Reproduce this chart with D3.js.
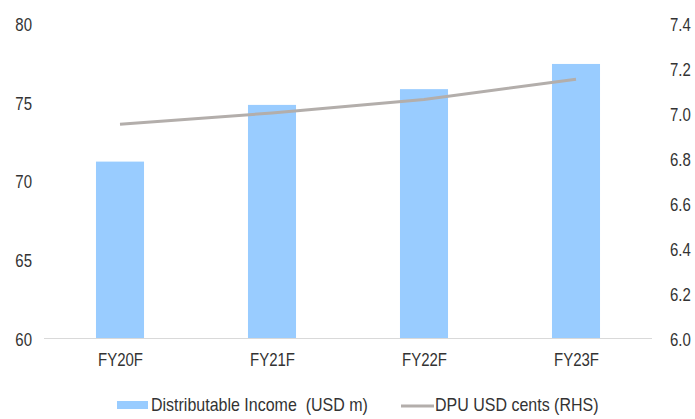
<!DOCTYPE html>
<html>
<head>
<meta charset="utf-8">
<script src="https://cdn.jsdelivr.net/npm/d3@7"></script>
<style>
  html, body { margin: 0; padding: 0; background: #fff; }
  svg { display: block; font-family: "Liberation Sans", Arial, sans-serif; }
  .legend text { white-space: pre; }
</style>
</head>
<body>
<svg id="chart" width="695" height="419"></svg>
<script>
// Forecast years
const categories = ["FY20F", "FY21F", "FY22F", "FY23F"];
// Distributable income, USD m (left axis)
const incomeValues = [71.2, 74.8, 75.8, 77.4];
// DPU, USD cents (right axis)
const dpuValues = [6.95, 7.00, 7.06, 7.15];
// Axis ticks
const leftTicks = [60, 65, 70, 75, 80];
const rightTicks = [6.0, 6.2, 6.4, 6.6, 6.8, 7.0, 7.2, 7.4];
const legendLabels = ["Distributable Income  (USD m)", "DPU USD cents (RHS)"];

const svg = d3.select("#chart");
const plot = { left: 44, right: 652, top: 23, bottom: 338 };
const textColor = "#333";
const fontSize = 15;
const stretch = "scale(1,1.2)"; // slightly tall, condensed lettering

const x = d3.scaleBand().domain(categories).range([plot.left, plot.right]).paddingInner(0.684).paddingOuter(0.342);
const xc = d3.scalePoint().domain(categories).range([plot.left, plot.right]).padding(0.5);
const yL = d3.scaleLinear().domain([60, 80]).range([plot.bottom, plot.top]);
const yR = d3.scaleLinear().domain([6.0, 7.4]).range([plot.bottom, plot.top]);

// Bars
svg.append("g").selectAll("rect").data(categories).join("rect")
  .attr("x", d => x(d))
  .attr("width", x.bandwidth())
  .attr("y", (d, i) => yL(incomeValues[i]))
  .attr("height", (d, i) => yL(60) - yL(incomeValues[i]))
  .attr("fill", "#99ccff");

// Baseline
svg.append("line")
  .attr("x1", plot.left).attr("x2", plot.right)
  .attr("y1", plot.bottom + 0.5).attr("y2", plot.bottom + 0.5)
  .attr("stroke", "#d9d9d9").attr("stroke-width", 1);

// DPU line
const line = d3.line().x((d, i) => xc(categories[i])).y(d => yR(d));
svg.append("path")
  .datum(dpuValues)
  .attr("d", line)
  .attr("fill", "none")
  .attr("stroke", "#b3aeab")
  .attr("stroke-width", 3);

function styleText(sel) {
  sel.attr("font-size", fontSize)
    .attr("fill", textColor)
    .attr("font-family", "Liberation Sans, Arial, sans-serif")
    .attr("y", 0)
    .attr("dy", "0.35em")
    .attr("transform", stretch);
}

// Left axis
const leftAxis = d3.axisLeft(yL).tickValues(leftTicks).tickSize(0).tickPadding(0).tickFormat(d3.format("d"));
const gl = svg.append("g").attr("transform", "translate(32,1)").call(leftAxis);
gl.select(".domain").remove();
gl.selectAll("text").call(styleText);

// Right axis
const rightAxis = d3.axisRight(yR).tickValues(rightTicks).tickSize(0).tickPadding(0).tickFormat(d3.format(".1f"));
const gr = svg.append("g").attr("transform", "translate(670,1)").call(rightAxis);
gr.select(".domain").remove();
gr.selectAll("text").call(styleText);

// Category axis
const bottomAxis = d3.axisBottom(xc).tickSize(0).tickPadding(0);
const gb = svg.append("g").attr("transform", "translate(0,360)").call(bottomAxis);
gb.select(".domain").remove();
gb.selectAll("text").call(styleText);

// Legend
const legend = svg.append("g").attr("class", "legend").attr("transform", "translate(0,405)");
legend.append("rect").attr("x", 117).attr("y", -4).attr("width", 31).attr("height", 8).attr("fill", "#99ccff");
legend.append("g").attr("transform", "translate(151,0)")
  .append("text").attr("font-size", 16).attr("fill", textColor).attr("dy", "0.35em").attr("transform", "scale(1,1.15)")
  .text(legendLabels[0]);
legend.append("line").attr("x1", 401).attr("x2", 434).attr("y1", 1).attr("y2", 1).attr("stroke", "#b3aeab").attr("stroke-width", 3);
legend.append("g").attr("transform", "translate(435,0)")
  .append("text").attr("font-size", 16).attr("fill", textColor).attr("dy", "0.35em").attr("transform", "scale(1,1.15)")
  .text(legendLabels[1]);
</script>
</body>
</html>
